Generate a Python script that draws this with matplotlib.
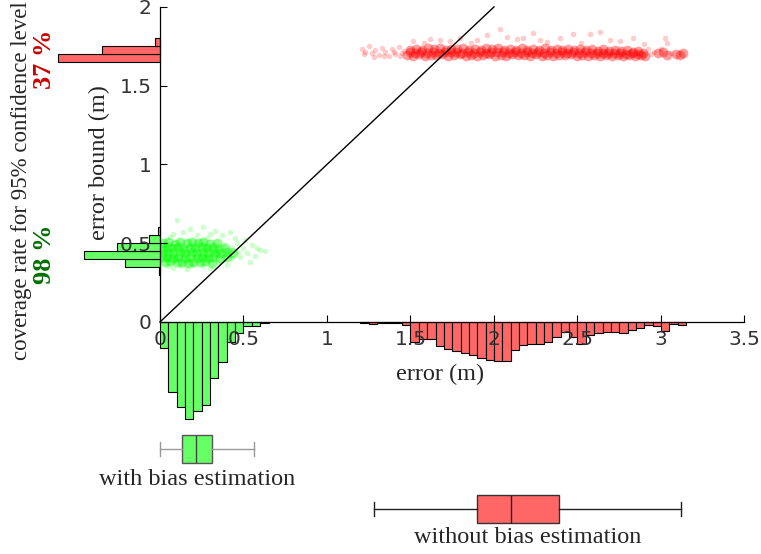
import matplotlib
matplotlib.use("Agg")
import matplotlib.pyplot as plt
import numpy as np

# ---------------- data ----------------
bin_w = 0.05
# error histograms (hanging below the x axis), heights in y-axis units
green_err_start = 0.00
green_err_hist = [0.165, 0.444, 0.540, 0.618, 0.567, 0.529, 0.356, 0.254,
                  0.127, 0.070, 0.025, 0.025, 0.008]
red_err_start = 1.20
red_err_hist = [0.006, 0.011, 0.006, 0.006, 0.006, 0.019, 0.127, 0.108, 0.108,
                0.152, 0.171, 0.184, 0.197, 0.210, 0.229, 0.241, 0.248, 0.248,
                0.175, 0.144, 0.143, 0.137, 0.124, 0.095, 0.063, 0.095, 0.137,
                0.083, 0.073, 0.062, 0.062, 0.067, 0.049, 0.040, 0.019, 0.025,
                0.058, 0.015, 0.022]
# error-bound histograms (extending left of the y axis), widths in x-axis units
green_bound_start = 0.30
green_bound_hist = [0.004, 0.208, 0.455, 0.256, 0.064, 0.012]
red_bound_start = 1.65
red_bound_hist = [0.609, 0.345, 0.032]

# box plot summaries of the error (m)
green_box = dict(whislo=0.0, q1=0.134, med=0.217, q3=0.311, whishi=0.565)
red_box = dict(whislo=1.281, q1=1.896, med=2.100, q3=2.387, whishi=3.120)

# scatter: (error, error bound) samples
red_core_pts = [
    # dense band, lower row
    (1.48, 1.695), (1.515, 1.690), (1.55, 1.700), (1.585, 1.688), (1.62, 1.697),
    (1.655, 1.692), (1.69, 1.702), (1.725, 1.688), (1.76, 1.695), (1.795, 1.700),
    (1.83, 1.690), (1.865, 1.698), (1.90, 1.686), (1.935, 1.696), (1.97, 1.700),
    (2.005, 1.690), (2.04, 1.697), (2.075, 1.688), (2.11, 1.700), (2.145, 1.692),
    (2.18, 1.696), (2.215, 1.688), (2.25, 1.699), (2.285, 1.690), (2.32, 1.695),
    (2.355, 1.686), (2.39, 1.698), (2.425, 1.692), (2.46, 1.700), (2.495, 1.688),
    (2.53, 1.695), (2.565, 1.690), (2.60, 1.698), (2.635, 1.686), (2.67, 1.694),
    (2.705, 1.690), (2.74, 1.697), (2.775, 1.688), (2.81, 1.695), (2.845, 1.686),
    (2.88, 1.694), (2.905, 1.690),
    # dense band, middle row
    (1.495, 1.712), (1.53, 1.708), (1.565, 1.715), (1.60, 1.710), (1.635, 1.714),
    (1.67, 1.709), (1.705, 1.716), (1.74, 1.711), (1.775, 1.713), (1.81, 1.708),
    (1.845, 1.715), (1.88, 1.710), (1.915, 1.714), (1.95, 1.709), (1.985, 1.716),
    (2.02, 1.711), (2.055, 1.713), (2.09, 1.708), (2.125, 1.715), (2.16, 1.710),
    (2.195, 1.714), (2.23, 1.709), (2.265, 1.712), (2.30, 1.708), (2.335, 1.713),
    (2.37, 1.709), (2.405, 1.714), (2.44, 1.710), (2.475, 1.712), (2.51, 1.707),
    (2.545, 1.711), (2.58, 1.708), (2.615, 1.710), (2.65, 1.706), (2.685, 1.709),
    (2.72, 1.705), (2.755, 1.708), (2.79, 1.704), (2.825, 1.707), (2.86, 1.703),
    (2.895, 1.706),
    # dense band, upper row
    (1.50, 1.728), (1.535, 1.735), (1.57, 1.725), (1.605, 1.738), (1.64, 1.730),
    (1.675, 1.740), (1.71, 1.727), (1.745, 1.736), (1.78, 1.730), (1.815, 1.742),
    (1.85, 1.728), (1.885, 1.735), (1.92, 1.725), (1.955, 1.738), (1.99, 1.730),
    (2.025, 1.740), (2.06, 1.727), (2.095, 1.735), (2.13, 1.728), (2.165, 1.738),
    (2.20, 1.726), (2.235, 1.734), (2.27, 1.729), (2.305, 1.737), (2.34, 1.725),
    (2.375, 1.733), (2.41, 1.728), (2.445, 1.736), (2.48, 1.724), (2.515, 1.732),
    (2.55, 1.727), (2.585, 1.734), (2.62, 1.722), (2.655, 1.730), (2.69, 1.720),
    (2.725, 1.728), (2.76, 1.718), (2.795, 1.724), (2.83, 1.716), (2.865, 1.722),
    # right clumps
    (2.985, 1.705), (3.015, 1.712), (3.035, 1.698),
    (3.09, 1.702), (3.115, 1.696), (3.13, 1.705),
]
red_sparse_pts = [
    # faint tail
    (1.21, 1.735), (1.23, 1.715), (1.25, 1.750), (1.27, 1.705), (1.29, 1.725),
    (1.31, 1.695), (1.33, 1.740), (1.35, 1.712), (1.37, 1.690), (1.39, 1.730),
    (1.41, 1.700), (1.43, 1.745), (1.44, 1.688), (1.46, 1.720), (1.22, 1.700),
    (1.28, 1.685), (1.34, 1.690), (1.40, 1.715), (1.45, 1.705),
    # points above the band
    (1.517, 1.784), (1.617, 1.797), (1.677, 1.790), (1.737, 1.784), (1.797, 1.800),
    (1.897, 1.790), (1.956, 1.822), (2.036, 1.860), (2.076, 1.810), (2.136, 1.797),
    (2.176, 1.805), (2.235, 1.833), (2.275, 1.790), (2.395, 1.805), (2.475, 1.827),
    (2.575, 1.827), (2.635, 1.839), (2.695, 1.790), (2.754, 1.784), (2.834, 1.800),
    (3.024, 1.800), (3.034, 1.770), (1.58, 1.770), (1.86, 1.772), (2.32, 1.775),
    (2.52, 1.768), (2.90, 1.765), (2.94, 1.700), (2.96, 1.715), (3.06, 1.705),
    (2.92, 1.735), (3.00, 1.730),
]
green_core_pts = [
    (0.02, 0.500), (0.05, 0.505), (0.09, 0.498), (0.12, 0.506), (0.16, 0.500),
    (0.19, 0.508), (0.23, 0.499), (0.26, 0.505), (0.30, 0.497), (0.34, 0.503),
    (0.01, 0.470), (0.04, 0.474), (0.07, 0.468), (0.11, 0.473), (0.14, 0.466),
    (0.18, 0.472), (0.21, 0.469), (0.25, 0.475), (0.28, 0.467), (0.32, 0.471),
    (0.35, 0.466), (0.39, 0.472),
    (0.02, 0.440), (0.05, 0.444), (0.08, 0.438), (0.12, 0.443), (0.15, 0.437),
    (0.19, 0.442), (0.22, 0.439), (0.26, 0.445), (0.29, 0.437), (0.33, 0.441),
    (0.36, 0.436), (0.40, 0.442), (0.44, 0.438),
    (0.01, 0.410), (0.04, 0.414), (0.08, 0.408), (0.11, 0.413), (0.15, 0.406),
    (0.18, 0.412), (0.22, 0.409), (0.25, 0.415), (0.29, 0.407), (0.32, 0.411),
    (0.36, 0.406), (0.40, 0.412),
    (0.03, 0.380), (0.06, 0.384), (0.10, 0.378), (0.13, 0.383), (0.17, 0.377),
    (0.20, 0.382), (0.24, 0.379), (0.27, 0.384), (0.31, 0.377),
]
green_sparse_pts = [
    (0.38, 0.498), (0.43, 0.468), (0.47, 0.444), (0.43, 0.408), (0.35, 0.382),
    (0.05, 0.358), (0.12, 0.355), (0.19, 0.360), (0.26, 0.356),
    (0.46, 0.500), (0.50, 0.470), (0.48, 0.410), (0.52, 0.440), (0.55, 0.490),
    (0.57, 0.420), (0.60, 0.460), (0.63, 0.450), (0.54, 0.380), (0.51, 0.520),
    (0.10, 0.648), (0.08, 0.560), (0.14, 0.570), (0.18, 0.590), (0.22, 0.550),
    (0.26, 0.600), (0.30, 0.560), (0.33, 0.580), (0.37, 0.550), (0.42, 0.570),
    (0.06, 0.540), (0.28, 0.530), (0.45, 0.530), (0.58, 0.470),
    (0.08, 0.340), (0.16, 0.335), (0.30, 0.345), (0.40, 0.360),
]
diag = [0.0, 2.0]

x_ticks = [0, 0.5, 1, 1.5, 2, 2.5, 3, 3.5]
x_tick_labels = ["0", "0.5", "1", "1.5", "2", "2.5", "3", "3.5"]
y_ticks = [0, 0.5, 1, 1.5, 2]
y_tick_labels = ["0", "0.5", "1", "1.5", "2"]

# ---------------- plot ----------------
GREEN = "#66ff66"
RED = "#ff6666"
SERIF = ["Liberation Serif", "DejaVu Serif"]

fig = plt.figure(figsize=(7.61, 5.54), dpi=100)
ax = fig.add_axes([0, 0, 1, 1])
ax.set_xlim(-0.958, 3.599)
ax.set_ylim(-1.473, 2.044)

# scatter clouds
for pts, col in ((green_sparse_pts, "#00ff00"), (red_sparse_pts, "#ff0000")):
    px, py = zip(*pts)
    ax.scatter(px, py, s=16, color=col, alpha=0.2, linewidths=0, zorder=1)
for pts, col, a in ((green_core_pts, "#00ff00", 0.45),
                    (red_core_pts, "#ff0000", 0.38)):
    px, py = zip(*pts)
    ax.scatter(px, py, s=50, color=col, alpha=a, linewidths=0, zorder=1)

# error histograms below x axis
g_edges = green_err_start + bin_w * np.arange(len(green_err_hist))
r_edges = red_err_start + bin_w * np.arange(len(red_err_hist))
ax.bar(g_edges, -np.array(green_err_hist), width=bin_w, align="edge",
       color=GREEN, edgecolor="black", linewidth=0.8, zorder=1)
ax.bar(r_edges, -np.array(red_err_hist), width=bin_w, align="edge",
       color=RED, edgecolor="black", linewidth=0.8, zorder=1)

# bound histograms left of y axis
gb_edges = green_bound_start + bin_w * np.arange(len(green_bound_hist))
rb_edges = red_bound_start + bin_w * np.arange(len(red_bound_hist))
ax.barh(gb_edges, -np.array(green_bound_hist), height=bin_w, align="edge",
        color=GREEN, edgecolor="black", linewidth=0.8, zorder=1)
ax.barh(rb_edges, -np.array(red_bound_hist), height=bin_w, align="edge",
        color=RED, edgecolor="black", linewidth=0.8, zorder=1)

# reference line
ax.plot(diag, diag, color="black", linewidth=1.0, zorder=2)

# box plots
gstats = dict(green_box, fliers=[])
rstats = dict(red_box, fliers=[])
ax.bxp([gstats], positions=[-0.806], widths=0.176, orientation="horizontal",
       patch_artist=True, showfliers=False, manage_ticks=False, capwidths=0.085,
       boxprops=dict(facecolor=GREEN, edgecolor="#555555", linewidth=1.0),
       whiskerprops=dict(color="#999999", linewidth=1.0),
       capprops=dict(color="#999999", linewidth=1.0),
       medianprops=dict(color="#444444", linewidth=1.0))
ax.bxp([rstats], positions=[-1.187], widths=0.176, orientation="horizontal",
       patch_artist=True, showfliers=False, manage_ticks=False, capwidths=0.09,
       boxprops=dict(facecolor=RED, edgecolor="#333333", linewidth=1.0),
       whiskerprops=dict(color="#222222", linewidth=1.0),
       capprops=dict(color="#222222", linewidth=1.0),
       medianprops=dict(color="#222222", linewidth=1.0))

# axes styling
for s in ("top", "right"):
    ax.spines[s].set_visible(False)
ax.spines["left"].set_position(("data", 0))
ax.spines["bottom"].set_position(("data", 0))
ax.spines["left"].set_bounds(0, 2)
ax.spines["bottom"].set_bounds(0, 3.5)
for s in ("left", "bottom"):
    ax.spines[s].set_linewidth(0.9)
ax.set_xticks(x_ticks)
ax.set_xticklabels(x_tick_labels)
ax.set_yticks(y_ticks)
ax.set_yticklabels(y_tick_labels)
ax.tick_params(direction="in", length=5, width=0.8, labelsize=14.5,
               labelcolor="#333333", pad=6)

# texts
ax.text(1.677, -0.333, "error (m)", fontsize=17.5, family=SERIF,
        color="#262626", ha="center", va="center")
ax.text(-0.36, 1.01, "error bound (m)", fontsize=17.5, family=SERIF,
        color="#262626", ha="center", va="center", rotation=90)
ax.text(-0.832, 0.900, "coverage rate for 95% confidence level", fontsize=16.5,
        family=SERIF, color="#262626", ha="center", va="center", rotation=90)
ax.text(-0.689, 1.667, "37 %", fontsize=19, family=SERIF, weight="bold",
        color="#cc0000", ha="center", va="center", rotation=90)
ax.text(-0.689, 0.432, "98 %", fontsize=19, family=SERIF, weight="bold",
        color="#007000", ha="center", va="center", rotation=90)
ax.text(0.222, -0.997, "with bias estimation", fontsize=17.5, family=SERIF,
        color="#262626", ha="center", va="center")
ax.text(2.201, -1.371, "without bias estimation", fontsize=17.5, family=SERIF,
        color="#262626", ha="center", va="center")

fig.savefig("out.png", dpi=100)
